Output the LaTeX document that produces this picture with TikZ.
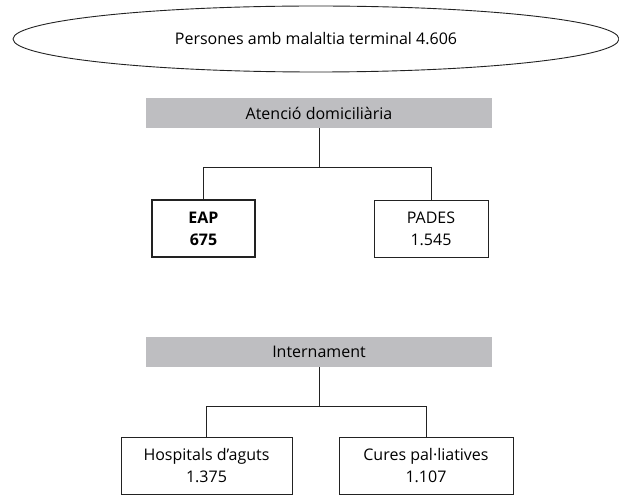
\documentclass[tikz,border=0pt]{standalone}
\usepackage{fontspec}
\setmainfont{Open Sans}
\usetikzlibrary{shapes.geometric}
\definecolor{barfill}{HTML}{BEBEC1}
\definecolor{ink}{HTML}{222222}

\begin{document}
\begin{tikzpicture}[
  x=1pt, y=1pt,
  font=\fontsize{16}{22}\selectfont,
  oval/.style={ellipse, draw=ink, line width=0.9pt, inner sep=0pt,
    minimum width=606pt, minimum height=66pt},
  bar/.style={fill=barfill, inner sep=0pt, minimum width=346pt,
    minimum height=30pt},
  box/.style={draw=ink, line width=0.8pt, align=center, inner sep=0pt,
    minimum height=57pt},
  boldbox/.style={box, line width=1.6pt, font=\fontsize{16}{22}\selectfont\bfseries},
  link/.style={draw=ink, line width=0.8pt}
]
\useasboundingbox (0,0) rectangle (619,-497);

\node[oval] (persones) at (316,-39) {Persones amb malaltia terminal 4.606};

\node[bar] (domicili) at (319,-113) {Atenció domiciliària};
\node[boldbox, minimum width=103pt] (eap) at (203.5,-228.5) {EAP\\675};
\node[box, minimum width=114pt] (pades) at (431,-228.5) {PADES\\1.545};

\node[bar] (internament) at (319,-352) {Internament};
\node[box, minimum width=171pt] (hospitals) at (206.5,-465.5) {Hospitals d’aguts\\1.375};
\node[box, minimum width=174pt] (cures) at (426,-465.5) {Cures pal·liatives\\1.107};

\draw[link] (domicili.south) -- ++(0,-39) coordinate (djoin);
\draw[link] (eap.north) |- (djoin) -| (pades.north);
\draw[link] (internament.south) -- ++(0,-39) coordinate (ijoin);
\draw[link] (hospitals.north) |- (ijoin) -| (cures.north);

\end{tikzpicture}
\end{document}
